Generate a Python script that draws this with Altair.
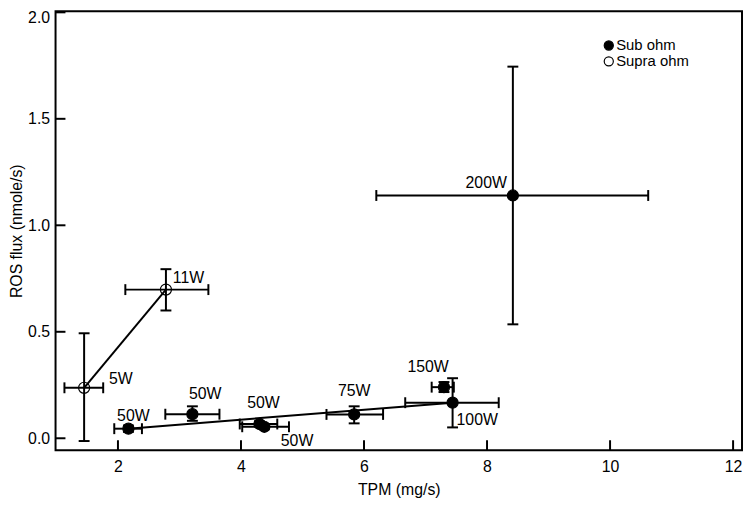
import altair as alt
import pandas as pd

# ---- data ----
labels = ["5W", "11W", "50W", "50W", "50W", "50W", "75W", "150W", "100W", "200W"]
group = ["Supra ohm", "Supra ohm", "Sub ohm", "Sub ohm", "Sub ohm", "Sub ohm",
         "Sub ohm", "Sub ohm", "Sub ohm", "Sub ohm"]
tpm = [1.45, 2.78, 2.17, 3.21, 4.30, 4.38, 5.84, 7.30, 7.44, 8.42]
tpm_lo = [1.13, 2.12, 1.94, 2.77, 3.98, 4.02, 5.39, 7.10, 6.67, 6.20]
tpm_hi = [1.76, 3.47, 2.39, 3.65, 4.59, 4.78, 6.31, 7.46, 8.19, 10.62]
ros = [0.237, 0.698, 0.045, 0.113, 0.067, 0.054, 0.112, 0.240, 0.167, 1.14]
ros_lo = [-0.013, 0.600, 0.030, 0.082, 0.055, 0.042, 0.070, 0.217, 0.051, 0.535]
ros_hi = [0.493, 0.794, 0.060, 0.150, 0.080, 0.066, 0.150, 0.264, 0.282, 1.745]
on_line = [True, True, True, False, False, False, False, False, True, False]

x_ticks = [2, 4, 6, 8, 10, 12]
y_ticks = [0.0, 0.5, 1.0, 1.5, 2.0]
series = ["Sub ohm", "Supra ohm"]

df = pd.DataFrame({
    "idx": list(range(len(labels))), "label": labels, "group": group,
    "tpm": tpm, "tpm_lo": tpm_lo, "tpm_hi": tpm_hi,
    "ros": ros, "ros_lo": ros_lo, "ros_hi": ros_hi, "on_line": on_line,
})
xt = pd.DataFrame({"v": x_ticks})
yt = pd.DataFrame({"v": y_ticks})

# ---- styles ----
W, H = 693, 443
FONT = "Liberation Sans"
FS = 16
label_style = {  # idx: (align, dx, dy)
    0: ("left", 25, -9),
    1: ("left", 7, -12),
    2: ("center", 5, -13),
    3: ("center", 13, -20),
    4: ("center", 4, -21),
    5: ("center", 33, 14),
    6: ("center", 0, -24),
    7: ("center", -16, -20),
    8: ("left", 4, 18),
    9: ("right", -6, -13),
}

xs = alt.Scale(domain=[0.9855, 12.145], nice=False, zero=False)
ys = alt.Scale(domain=[-0.0558, 2.0047], nice=False, zero=False)

base = alt.Chart(df)

xerr = base.mark_rule(color="black", strokeWidth=2).encode(
    x=alt.X("tpm_lo:Q", scale=xs), x2="tpm_hi:Q", y=alt.Y("ros:Q", scale=ys))
yerr = base.mark_rule(color="black", strokeWidth=2).encode(
    x=alt.X("tpm:Q", scale=xs), y=alt.Y("ros_lo:Q", scale=ys), y2="ros_hi:Q")


def cap(xf, yf, orient):
    return base.mark_tick(color="black", orient=orient, size=11, thickness=2,
                          opacity=1).encode(
        x=alt.X(xf, scale=xs), y=alt.Y(yf, scale=ys))


caps = [cap("tpm_lo:Q", "ros:Q", "vertical"), cap("tpm_hi:Q", "ros:Q", "vertical"),
        cap("tpm:Q", "ros_lo:Q", "horizontal"), cap("tpm:Q", "ros_hi:Q", "horizontal")]

lines = base.transform_filter("datum.on_line").mark_line(
    color="black", strokeWidth=2).encode(
    x=alt.X("tpm:Q", scale=xs), y=alt.Y("ros:Q", scale=ys), detail="group:N",
    order="tpm:Q")

points = base.mark_point(filled=True, shape="circle", size=125, stroke="black",
                         strokeWidth=1.2, opacity=1).encode(
    x=alt.X("tpm:Q", scale=xs,
            axis=alt.Axis(title="TPM (mg/s)", values=x_ticks, format="d",
                          labelPadding=9, titlePadding=7)),
    y=alt.Y("ros:Q", scale=ys,
            axis=alt.Axis(title="ROS flux (nmole/s)", values=y_ticks, format=".1f",
                          labelPadding=6, titlePadding=3,
                          labelBaseline={"expr": "datum.value >= 2 ? 'top' : 'middle'"},
                          labelOffset={"expr": "datum.value >= 2 ? -3 : 0"})),
    fill=alt.Fill("group:N", scale=alt.Scale(domain=series, range=["black", "transparent"]),
                  legend=alt.Legend(title=None, orient="none", legendX=551, legendY=28,
                                    symbolType="circle", symbolSize=85,
                                    symbolStrokeColor="black", symbolStrokeWidth=1.2,
                                    labelFontSize=15, labelFont=FONT, rowPadding=0,
                                    clipHeight=13, labelOffset=0)),
)

texts = []
for i, (al, dx, dy) in label_style.items():
    texts.append(
        base.transform_filter(f"datum.idx == {i}").mark_text(
            align=al, baseline="middle", dx=dx, dy=dy, fontSize=FS, font=FONT,
            color="black").encode(
            x=alt.X("tpm:Q", scale=xs), y=alt.Y("ros:Q", scale=ys), text="label:N"))

xtick_marks = alt.Chart(xt).mark_rule(color="black", strokeWidth=2).encode(
    x=alt.X("v:Q", scale=xs), y=alt.value(H), y2=alt.value(H - 10))
ytick_marks = alt.Chart(yt).mark_rule(color="black", strokeWidth=2).encode(
    y=alt.Y("v:Q", scale=ys), x=alt.value(0), x2=alt.value(10))

chart = alt.layer(
    xerr, yerr, *caps, lines, points, *texts, xtick_marks, ytick_marks,
).properties(
    width=W, height=H,
    autosize=alt.AutoSizeParams(type="none"),
    padding={"left": 48, "top": 1, "right": 1, "bottom": 52},
).configure_view(
    stroke="black", strokeWidth=2,
).configure_axis(
    grid=False, ticks=False, domain=False,
    labelFont=FONT, titleFont=FONT, labelFontSize=FS, titleFontSize=FS,
    titleFontWeight="normal", labelColor="black", titleColor="black",
)

chart.save("out.html", embed_options={"renderer": "svg", "actions": False})
